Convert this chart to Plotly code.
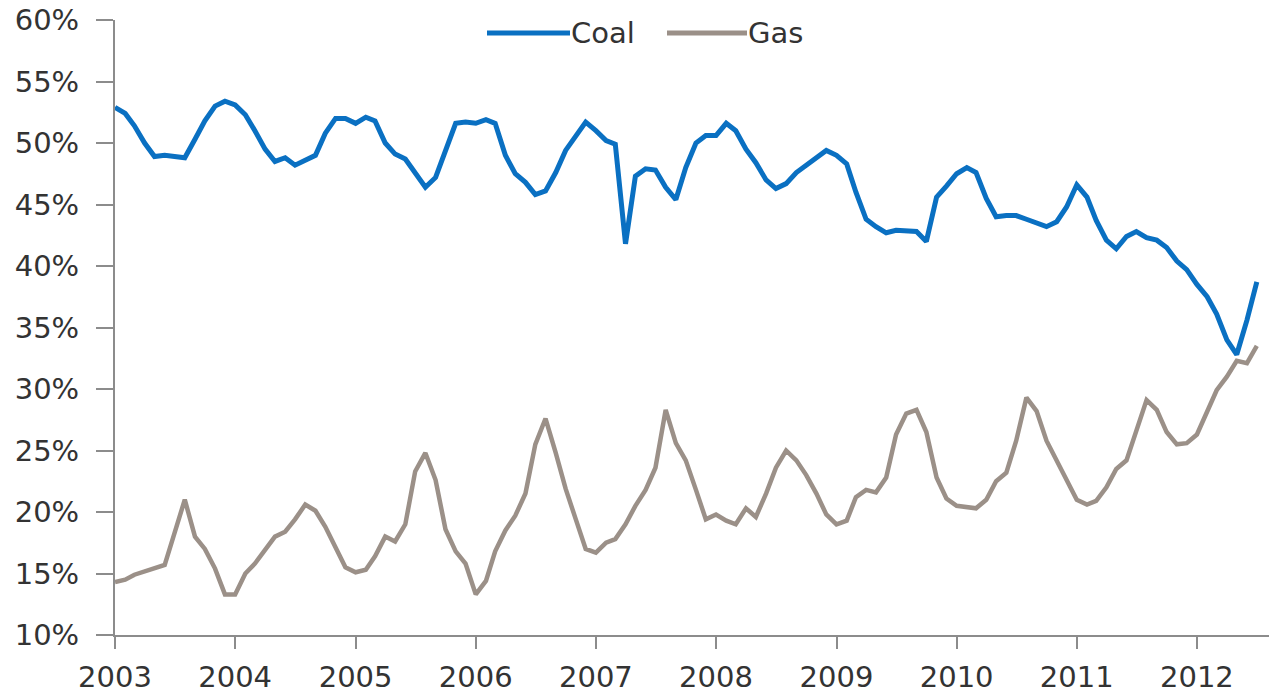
import pandas as pd
import plotly.graph_objects as go

# Monthly share of US electricity generation, Jan 2003 - Jul 2012 (%)
months = pd.date_range("2003-01-01", periods=115, freq="MS")

coal = [
    52.9, 52.4, 51.4, 50.0, 48.9, 49.0, 48.9, 48.8, 50.3, 51.8,
    53.0, 53.4, 53.1, 52.3, 51.0, 49.5, 48.5, 48.8, 48.2, 48.6,
    49.0, 50.8, 52.0, 52.0, 51.6, 52.1, 51.8, 50.0, 49.1, 48.7,
    47.6, 46.4, 47.2, 49.3, 51.6, 51.7, 51.6, 51.9, 51.6, 49.0,
    47.5, 46.8, 45.8, 46.1, 47.6, 49.4, 50.6, 51.7, 51.0, 50.2,
    49.9, 41.8, 47.3, 47.9, 47.8, 46.4, 45.4, 48.0, 50.0, 50.6,
    50.6, 51.6, 51.0, 49.5, 48.4, 47.0, 46.3, 46.7, 47.6, 48.2,
    48.8, 49.4, 49.0, 48.3, 46.0, 43.8, 43.2, 42.7, 42.9, 42.9,
    42.8, 42.0, 45.6, 46.5, 47.5, 48.0, 47.6, 45.5, 44.0, 44.1,
    44.1, 43.8, 43.5, 43.2, 43.6, 44.8, 46.6, 45.6, 43.7, 42.1,
    41.4, 42.4, 42.8, 42.3, 42.1, 41.5, 40.4, 39.7, 38.5, 37.5,
    36.1, 34.0, 32.8, 35.6, 38.7,
]

gas = [
    14.3, 14.5, 14.9, 15.2, 15.4, 15.7, 18.3, 21.0, 18.0, 17.0,
    15.4, 13.3, 13.3, 15.0, 15.8, 16.9, 18.0, 18.4, 19.4, 20.6,
    20.1, 18.8, 17.1, 15.5, 15.1, 15.3, 16.4, 18.0, 17.6, 19.0,
    23.3, 24.8, 22.6, 18.6, 16.8, 15.8, 13.3, 14.4, 16.8, 18.5,
    19.7, 21.5, 25.5, 27.6, 24.8, 21.9, 19.4, 17.0, 16.7, 17.5,
    17.8, 19.0, 20.5, 21.8, 23.6, 28.3, 25.6, 24.2, 21.8, 19.4,
    19.8, 19.3, 19.0, 20.3, 19.6, 21.5, 23.6, 25.0, 24.2, 23.0,
    21.5, 19.8, 19.0, 19.3, 21.2, 21.8, 21.6, 22.8, 26.3, 28.0,
    28.3, 26.5, 22.8, 21.1, 20.5, 20.4, 20.3, 21.0, 22.5, 23.2,
    25.8, 29.3, 28.2, 25.8, 24.2, 22.5, 21.0, 20.6, 20.9, 22.0,
    23.5, 24.2, 26.5, 29.1, 28.3, 26.5, 25.5, 25.6, 26.3, 28.2,
    29.9, 31.0, 32.3, 32.1, 33.5,
]

series_names = ["Coal", "Gas"]
series_colors = ["#0A70C2", "#9B9088"]

FONT = dict(family="DejaVu Sans", size=29, color="#333333")
AXIS_COLOR = "#8C8C8C"

fig = go.Figure()
fig.add_trace(go.Scatter(x=months, y=coal, mode="lines", name=series_names[0],
                         line=dict(color=series_colors[0], width=5)))
fig.add_trace(go.Scatter(x=months, y=gas, mode="lines", name=series_names[1],
                         line=dict(color=series_colors[1], width=4.5)))

# Legend drawn as wide line samples with text labels above the plot
W, H = 1269, 694
ML, MR, MT, MB = 115, 0, 20, 59
pw, ph = W - ML - MR, H - MT - MB


def px_x(x):
    return (x - ML) / pw


def px_y(y):
    return (H - MB - y) / ph


legend_items = [(487, 570), (667, 747)]
shapes = []
annotations = []
for (x0, x1), name, color in zip(legend_items, series_names, series_colors):
    shapes.append(dict(type="line", xref="paper", yref="paper",
                       x0=px_x(x0), x1=px_x(x1), y0=px_y(33), y1=px_y(33),
                       line=dict(color=color, width=5)))
    annotations.append(dict(text=name, xref="paper", yref="paper",
                            x=px_x(x1), y=px_y(33), xanchor="left", yanchor="middle",
                            showarrow=False, font=FONT, borderpad=0))

fig.update_layout(
    width=W, height=H,
    margin=dict(l=ML, r=MR, t=MT, b=MB, pad=0),
    paper_bgcolor="white", plot_bgcolor="white",
    showlegend=False,
    shapes=shapes, annotations=annotations,
    font=FONT,
)

fig.update_xaxes(
    range=["2003-01-01", "2012-08-07"],
    tick0="2003-01-01", dtick="M12", tickformat="%Y",
    showgrid=False, zeroline=False,
    showline=True, linecolor=AXIS_COLOR, linewidth=2,
    ticks="outside", ticklen=12, tickwidth=2, tickcolor=AXIS_COLOR,
    tickfont=FONT, ticklabelstandoff=3,
)
fig.update_yaxes(
    range=[10, 60], tick0=10, dtick=5, ticksuffix="%",
    showgrid=False, zeroline=False,
    showline=True, linecolor=AXIS_COLOR, linewidth=2,
    ticks="outside", ticklen=17, tickwidth=2, tickcolor=AXIS_COLOR,
    tickfont=FONT, ticklabelstandoff=11,
)

fig.write_html("out.html")
